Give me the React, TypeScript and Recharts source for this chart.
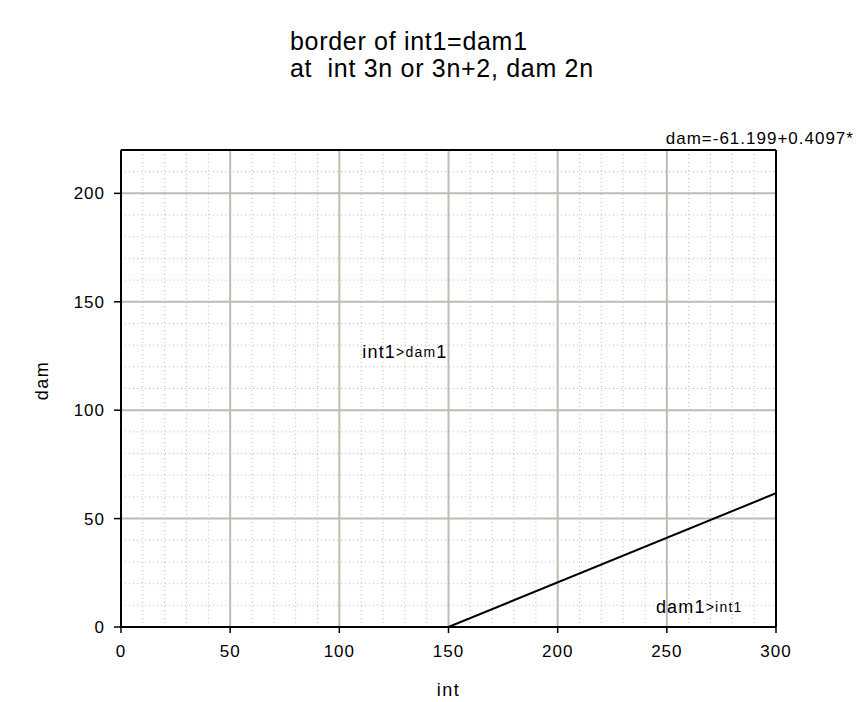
import React from 'react';
import { LineChart, Line, XAxis, YAxis, ReferenceLine, ReferenceDot } from 'recharts';

const titleLines = ['border of int1=dam1', 'at  int 3n or 3n+2, dam 2n'];
const xTicks = [0, 50, 100, 150, 200, 250, 300];
const yTicks = [0, 50, 100, 150, 200];
const xMinor = [10, 20, 30, 40, 60, 70, 80, 90, 110, 120, 130, 140, 160, 170, 180, 190, 210, 220, 230, 240, 260, 270, 280, 290];
const yMinor = [10, 20, 30, 40, 60, 70, 80, 90, 110, 120, 130, 140, 160, 170, 180, 190, 210];
const xMajor = [50, 100, 150, 200, 250];
const yMajor = [50, 100, 150, 200];
const borderInt = [150, 300];
const borderDam = [0, 61.7];
const equationText = 'dam=-61.199+0.4097*';

const data = borderInt.map((v, i) => ({ int: v, dam: borderDam[i] }));

const FONT = '"Liberation Sans", Arial, sans-serif';

const AnnotInt = (props: any) => {
  const vb = props.viewBox || {};
  return (
    <text x={vb.x} y={vb.y} fontFamily={FONT} fill="#000" dominantBaseline="central" letterSpacing={1.2}>
      <tspan fontSize={18}>int1</tspan>
      <tspan fontSize={14}>&gt;dam</tspan>
      <tspan fontSize={18}>1</tspan>
    </text>
  );
};

const AnnotDam = (props: any) => {
  const vb = props.viewBox || {};
  return (
    <text x={vb.x} y={vb.y} fontFamily={FONT} fill="#000" dominantBaseline="central" letterSpacing={1.2}>
      <tspan fontSize={18}>dam1</tspan>
      <tspan fontSize={14}>&gt;int1</tspan>
    </text>
  );
};

const EqLabel = (props: any) => {
  const vb = props.viewBox || {};
  return (
    <text x={vb.x} y={vb.y} fontFamily={FONT} fontSize={17} fill="#000" dominantBaseline="central" letterSpacing={1}>
      {equationText}
    </text>
  );
};

const YLabel = (props: any) => {
  const vb = props.viewBox || {};
  const cx = vb.x - 19;
  const cy = vb.y + vb.height / 2 - 8;
  return (
    <text x={cx} y={cy} transform={`rotate(-90 ${cx} ${cy})`} textAnchor="middle" dominantBaseline="central" fontFamily={FONT} fontSize={18} letterSpacing={1.5} fill="#000">
      dam
    </text>
  );
};

const XLabel = (props: any) => {
  const vb = props.viewBox || {};
  return (
    <text x={vb.x + vb.width / 2} y={vb.y + 63} textAnchor="middle" dominantBaseline="central" fontFamily={FONT} fontSize={18} letterSpacing={1.5} fill="#000">
      int
    </text>
  );
};

export default function App() {
  return (
    <div style={{ position: 'absolute', left: 0, top: 0, width: 858, height: 702, background: '#fff', overflow: 'hidden' }}>
      <div style={{ position: 'absolute', left: 290, top: 28, fontFamily: FONT, fontSize: 25, letterSpacing: 0.7, lineHeight: '27px', color: '#000', whiteSpace: 'pre' }}>
        {titleLines.map((t) => (
          <div key={t}>{t}</div>
        ))}
      </div>
      <LineChart width={858} height={702} data={data} margin={{ top: 150, right: 82, bottom: 35, left: 61 }}>
        {xMinor.map((v) => (
          <ReferenceLine key={'xm' + v} x={v} stroke="#bebeb4" strokeWidth={1} strokeDasharray="1 3" />
        ))}
        {yMinor.map((v) => (
          <ReferenceLine key={'ym' + v} y={v} stroke="#bebeb4" strokeWidth={1} strokeDasharray="1 3" />
        ))}
        {xMajor.map((v) => (
          <ReferenceLine key={'xM' + v} x={v} stroke="#bdbdb2" strokeWidth={2} />
        ))}
        {yMajor.map((v) => (
          <ReferenceLine key={'yM' + v} y={v} stroke="#bdbdb2" strokeWidth={2} />
        ))}
        <ReferenceLine y={220} stroke="#000" strokeWidth={2} />
        <ReferenceLine x={300} stroke="#000" strokeWidth={2} />
        <XAxis
          dataKey="int"
          type="number"
          domain={[0, 300]}
          ticks={xTicks}
          interval={0}
          height={40}
          axisLine={{ stroke: '#000', strokeWidth: 2 }}
          tickLine={{ stroke: '#000', strokeWidth: 1.5 }}
          tickSize={6}
          tickMargin={12}
          tick={{ fill: '#000', fontSize: 17, fontFamily: FONT, letterSpacing: 1 }}
          label={(p: any) => <XLabel {...p} />}
          allowDataOverflow
        />
        <YAxis
          dataKey="dam"
          type="number"
          domain={[0, 220]}
          ticks={yTicks}
          interval={0}
          width={60}
          axisLine={{ stroke: '#000', strokeWidth: 2 }}
          tickLine={{ stroke: '#000', strokeWidth: 1.5 }}
          tickSize={7}
          tickMargin={9}
          tick={{ fill: '#000', fontSize: 17, fontFamily: FONT, letterSpacing: 1 }}
          label={(p: any) => <YLabel {...p} />}
          allowDataOverflow
        />
        <Line dataKey="dam" stroke="#000" strokeWidth={2} dot={false} isAnimationActive={false} />
        <ReferenceDot x={110.5} y={127} r={0} fill="none" stroke="none" label={(p: any) => <AnnotInt {...p} />} />
        <ReferenceDot x={245} y={9.2} r={0} fill="none" stroke="none" label={(p: any) => <AnnotDam {...p} />} />
        <ReferenceDot x={249.5} y={225.5} r={0} fill="none" stroke="none" ifOverflow="visible" label={(p: any) => <EqLabel {...p} />} />
      </LineChart>
    </div>
  );
}
